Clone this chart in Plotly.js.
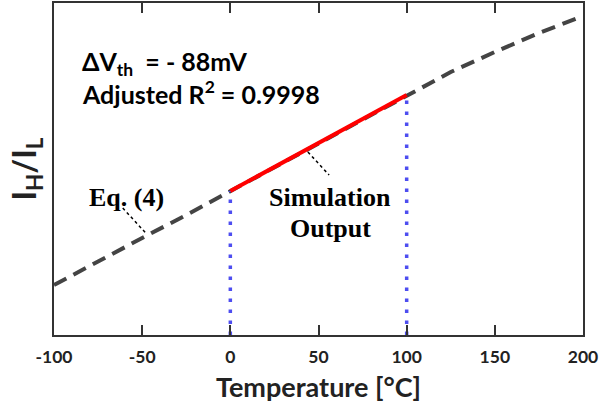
<!DOCTYPE html>
<html>
<head>
<meta charset="utf-8">
<script src="https://cdn.plot.ly/plotly-3.0.1.min.js"></script>
<style>html,body{margin:0;padding:0;background:#fff;}#chart{width:600px;height:411px;}</style>
</head>
<body>
<div id="chart"></div>
<script>
// Eq. (4) model curve (arbitrary units of I_H/I_L)
const tempFit  = [-100, -75, -50, -25, 0, 25, 50, 75, 100, 125, 150, 175, 200];
const ratioFit = [50, 74, 97, 120, 144, 168, 192, 216, 240, 263, 283, 302, 319];
// Simulation output
const tempSim  = [0, 25, 50, 75, 100];
const ratioSim = [144, 168, 192, 216, 240];
const xTicks = [-100, -50, 0, 50, 100, 150, 200];

const simStart = [tempSim[0], ratioSim[0]];
const simEnd = [tempSim[tempSim.length-1], ratioSim[ratioSim.length-1]];

const traces = [
  {x: tempFit, y: ratioFit, mode: 'lines', line: {color: '#444444', width: 4, dash: '14px,8px'}, hoverinfo: 'skip'},
  {x: [simStart[0], simStart[0]], y: [0, simStart[1]], mode: 'lines', line: {color: '#4d4df0', width: 3.5, dash: '3.5px,7.5px'}},
  {x: [simEnd[0], simEnd[0]], y: [0, simEnd[1]], mode: 'lines', line: {color: '#4d4df0', width: 3.5, dash: '3.5px,7.5px'}},
  {x: tempSim, y: ratioSim, mode: 'lines', line: {color: '#ff0000', width: 4}}
];

const SANS = 'Lato, Open Sans, sans-serif';
const serif = {family: 'Liberation Serif, Times New Roman, serif', size: 26, color: '#000', weight: 700};
const sans = {family: SANS, size: 25, color: '#000', weight: 700};
const b = s => '<b>' + s + '</b>';

const layout = {
  width: 600, height: 411,
  margin: {l: 54, r: 17, t: 3, b: 76},
  showlegend: false,
  plot_bgcolor: '#fff', paper_bgcolor: '#fff',
  xaxis: {
    range: [-100, 200], tickvals: xTicks, ticktext: xTicks.map(v => b(String(v))),
    ticks: 'inside', ticklen: 10, tickwidth: 2, tickcolor: '#333',
    showline: true, linecolor: '#333', linewidth: 2, mirror: 'ticks',
    showgrid: false, zeroline: false, ticklabelstandoff: 5,
    tickfont: {family: SANS, size: 17.5, color: '#222', weight: 700},
    title: {text: b('Temperature [°C]'), font: {family: SANS, size: 27, color: '#222', weight: 700}, standoff: 12}
  },
  yaxis: {
    range: [0, 332], showticklabels: false, ticks: '',
    showline: true, linecolor: '#333', linewidth: 2, mirror: true,
    showgrid: false, zeroline: false,
    title: {text: b('I<sub>H</sub>/I<sub>L</sub>'), font: {family: SANS, size: 32, color: '#222', weight: 700}, standoff: 6}
  },
  shapes: [
    {type: 'line', xref: 'x', yref: 'y', x0: -61, y0: 127, x1: -48, y1: 102, line: {color: '#000', width: 1.5, dash: 'dot'}},
    {type: 'line', xref: 'x', yref: 'y', x0: 44, y0: 183, x1: 56, y1: 160, line: {color: '#000', width: 1.5, dash: 'dot'}}
  ],
  annotations: [
    {x: -85, y: 272, xref: 'x', yref: 'y', xanchor: 'left', yanchor: 'middle', showarrow: false, text: b('ΔV<sub>th</sub>  = - 88mV'), font: sans},
    {x: -85, y: 243, xref: 'x', yref: 'y', xanchor: 'left', yanchor: 'middle', showarrow: false, text: b('Adjusted R<sup>2</sup> = 0.9998'), font: sans},
    {x: -59, y: 138, xref: 'x', yref: 'y', xanchor: 'center', yanchor: 'middle', showarrow: false, text: b('Eq. (4)'), font: serif},
    {x: 56.7, y: 138, xref: 'x', yref: 'y', xanchor: 'center', yanchor: 'middle', showarrow: false, text: b('Simulation'), font: serif},
    {x: 56.7, y: 107, xref: 'x', yref: 'y', xanchor: 'center', yanchor: 'middle', showarrow: false, text: b('Output'), font: serif}
  ]
};

Plotly.newPlot('chart', traces, layout, {displayModeBar: false, staticPlot: true});
</script>
</body>
</html>
